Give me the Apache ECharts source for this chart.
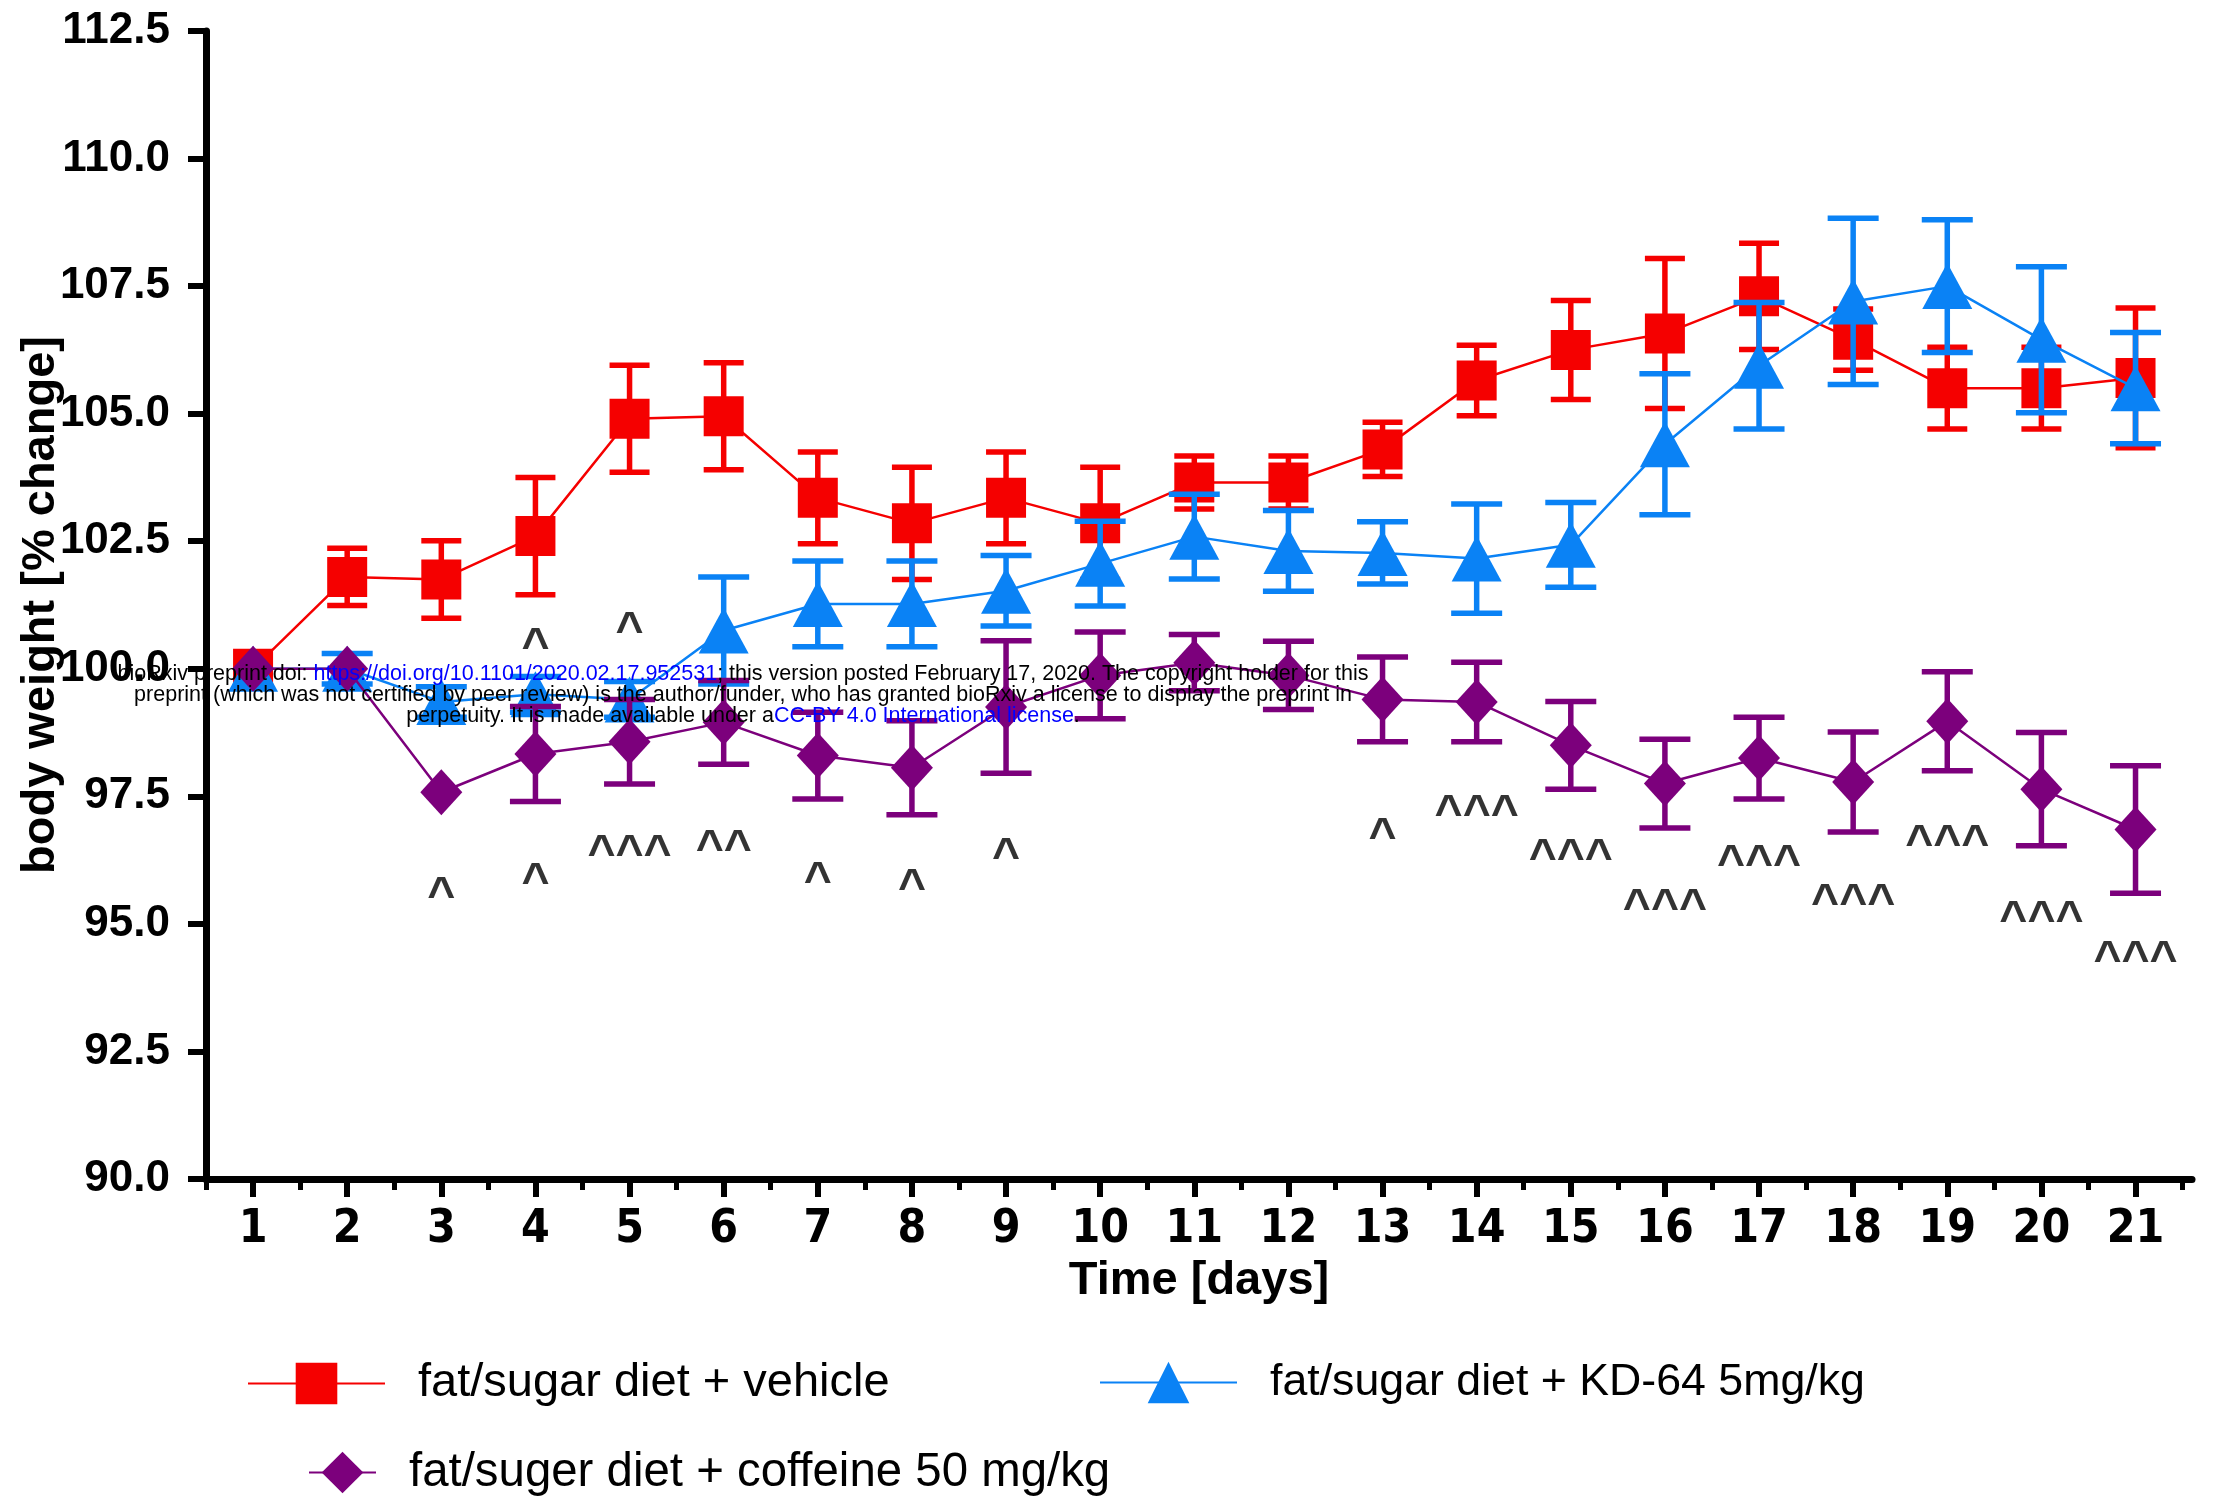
<!DOCTYPE html>
<html>
<head>
<meta charset="utf-8">
<script src="https://cdn.jsdelivr.net/npm/echarts@6/dist/echarts.min.js"></script>
<style>
  html, body { margin: 0; padding: 0; background: #ffffff; }
  #chart { width: 2215px; height: 1502px; }
</style>
</head>
<body>
<div id="chart"></div>
<script>
// Body weight (% of day-1 weight), mean and SEM per day
const days = [1, 2, 3, 4, 5, 6, 7, 8, 9, 10, 11, 12, 13, 14, 15, 16, 17, 18, 19, 20, 21];

const vehicleMean = [100.0, 101.8, 101.75, 102.6, 104.9, 104.95, 103.35, 102.85, 103.35, 102.85, 103.65,
                     103.65, 104.3, 105.65, 106.25, 106.57, 107.3, 106.45, 105.5, 105.5, 105.7];
const vehicleSem  = [0, 0.56, 0.76, 1.15, 1.05, 1.05, 0.9, 1.1, 0.9, 1.1, 0.52,
                     0.52, 0.53, 0.69, 0.97, 1.47, 1.04, 0.6, 0.8, 0.8, 1.37];

const kdMean = [100.0, 100.0, 99.35, 99.5, 99.4, 100.75, 101.27, 101.27, 101.53, 102.06, 102.59,
                102.31, 102.27, 102.16, 102.43, 104.4, 105.94, 107.2, 107.5, 106.45, 105.5];
const kdSem  = [0, 0.3, 0.3, 0.35, 0.35, 1.05, 0.84, 0.84, 0.69, 0.83, 0.83,
                0.79, 0.61, 1.07, 0.83, 1.38, 1.24, 1.63, 1.3, 1.43, 1.09];

const coffMean = [100.0, 100.0, 97.58, 98.33, 98.57, 98.95, 98.3, 98.06, 99.25, 99.87, 100.12,
                  99.87, 99.4, 99.35, 98.5, 97.75, 98.25, 97.78, 98.97, 97.64, 96.85];
const coffSem  = [0, 0, 0, 0.93, 0.83, 0.82, 0.85, 0.92, 1.3, 0.85, 0.55,
                  0.67, 0.83, 0.78, 0.86, 0.87, 0.8, 0.98, 0.97, 1.11, 1.25];

const seriesNames = [
  'fat/sugar diet + vehicle',
  'fat/sugar diet + KD-64 5mg/kg',
  'fat/suger diet + coffeine 50 mg/kg'
];

// Significance marks (^ p<0.05, ^^ p<0.01, ^^^ p<0.001) and the level they sit at
const annotDays   = [4, 5, 3, 4, 5, 6, 7, 8, 9, 13, 14, 15, 16, 17, 18, 19, 20, 21];
const annotMarks  = ['^', '^', '^', '^', '^^^', '^^', '^', '^', '^', '^', '^^^', '^^^', '^^^', '^^^', '^^^', '^^^', '^^^', '^^^'];
const annotLevels = [100.6, 100.93, 95.73, 96.0, 96.56, 96.64, 96.03, 95.89, 96.5, 96.89, 97.33,
                     96.47, 95.5, 96.36, 95.59, 96.75, 95.26, 94.48];

const yMin = 90, yMax = 112.5, yStep = 2.5;
const xMin = 0.5, xMax = 21.6;

const COLORS = ['#f50000', '#0a82f5', '#7c007c'];
const FONT = "'Liberation Sans', Arial, Helvetica, sans-serif";
const NARROW = "'Liberation Sans Narrow', 'Arial Narrow', 'DejaVu Sans Condensed', sans-serif";

const halfTicks = days.map(d => d - 0.5).concat([days[days.length - 1] + 0.5]);

function errorBarSeries(name, means, sems, color, capWidth, z) {
  const data = [];
  days.forEach((d, i) => {
    if (sems[i] > 0) data.push([d, means[i] - sems[i], means[i] + sems[i]]);
  });
  return {
    name: name,
    type: 'custom',
    xAxisIndex: 0,
    yAxisIndex: 0,
    z: z,
    silent: true,
    encode: { x: 0, y: [1, 2] },
    data: data,
    renderItem: function (params, api) {
      const x = api.value(0);
      const top = api.coord([x, api.value(2)]);
      const bot = api.coord([x, api.value(1)]);
      const hw = capWidth / 2;
      const style = { stroke: color, lineWidth: 5.5, lineCap: 'butt' };
      return {
        type: 'group',
        children: [
          { type: 'line', shape: { x1: top[0], y1: top[1], x2: bot[0], y2: bot[1] }, style: style },
          { type: 'line', shape: { x1: top[0] - hw, y1: top[1], x2: top[0] + hw, y2: top[1] }, style: style },
          { type: 'line', shape: { x1: bot[0] - hw, y1: bot[1], x2: bot[0] + hw, y2: bot[1] }, style: style }
        ]
      };
    }
  };
}

function lineSeries(name, means, color, symbol, size, z) {
  return {
    name: name,
    type: 'line',
    xAxisIndex: 0,
    yAxisIndex: 0,
    z: z,
    data: days.map((d, i) => [d, means[i]]),
    symbol: symbol,
    symbolSize: size,
    showAllSymbol: true,
    lineStyle: { color: color, width: 2.5 },
    itemStyle: { color: color, borderWidth: 0 },
    emphasis: { disabled: true },
    animation: false
  };
}

const chart = echarts.init(document.getElementById('chart'), null, { renderer: 'canvas' });

function legendText(size) {
  return { fontFamily: FONT, fontSize: size, color: '#000', padding: [0, 0, 0, 28] };
}

const headerRich = {
  k: { fill: '#000', fontFamily: FONT, fontSize: 21.5 },
  b: { fill: '#0000ff', fontFamily: FONT, fontSize: 21.5 }
};

const option = {
  backgroundColor: '#ffffff',
  animation: false,
  grid: { left: 206, right: 23, top: 31, bottom: 323, containLabel: false, outerBoundsMode: 'none' },
  xAxis: [
    {
      type: 'value', min: xMin, max: xMax, position: 'bottom',
      axisLine: { show: true, onZero: false, lineStyle: { color: '#000', width: 7 } },
      axisTick: { show: true, customValues: halfTicks, length: 11, lineStyle: { color: '#000', width: 5 } },
      axisLabel: { show: false },
      splitLine: { show: false }
    },
    {
      type: 'value', min: xMin, max: xMax, position: 'bottom', offset: 0,
      name: 'Time [days]', nameLocation: 'middle', nameGap: 79, nameMoveOverlap: false,
      nameTextStyle: { fontFamily: FONT, fontWeight: 'bold', fontSize: 47, color: '#000' },
      axisLine: { show: false, onZero: false },
      axisTick: { show: true, customValues: days, length: 18, lineStyle: { color: '#000', width: 6 } },
      axisLabel: {
        show: true, customValues: days, margin: 28,
        fontFamily: NARROW, fontWeight: 'bold', fontSize: 46, color: '#000',
        formatter: v => String(v)
      },
      splitLine: { show: false }
    }
  ],
  yAxis: {
    type: 'value', min: yMin, max: yMax, interval: yStep,
    name: 'body weight [% change]', nameLocation: 'middle', nameGap: 141, nameRotate: 90,
    nameMoveOverlap: false,
    nameTextStyle: { fontFamily: FONT, fontWeight: 'bold', fontSize: 47, color: '#000' },
    axisLine: { show: true, onZero: false, lineStyle: { color: '#000', width: 7 } },
    axisTick: { show: true, length: 18, lineStyle: { color: '#000', width: 6 } },
    axisLabel: {
      margin: 36, fontFamily: FONT, fontWeight: 'bold', fontSize: 44, color: '#000',
      showMinLabel: true, showMaxLabel: true,
      formatter: v => v.toFixed(1)
    },
    splitLine: { show: false }
  },
  legend: [
    { data: [seriesNames[0]], left: 247, top: 1360, padding: 0, itemWidth: 137, itemHeight: 52,
      textStyle: legendText(47), selectedMode: false },
    { data: [seriesNames[1]], left: 1099, top: 1360, padding: 0, itemWidth: 137, itemHeight: 52,
      textStyle: legendText(44.7), selectedMode: false },
    { data: [seriesNames[2]], left: 308, top: 1449, padding: 0, itemWidth: 67, itemHeight: 52,
      textStyle: legendText(47.4), selectedMode: false }
  ],
  series: [
    errorBarSeries('vehicle SEM', vehicleMean, vehicleSem, COLORS[0], 40, 2),
    lineSeries(seriesNames[0], vehicleMean, COLORS[0], 'rect', [40, 40], 3),
    errorBarSeries('KD-64 SEM', kdMean, kdSem, COLORS[1], 51, 4),
    lineSeries(seriesNames[1], kdMean, COLORS[1], 'triangle', [50, 46], 5),
    errorBarSeries('coffeine SEM', coffMean, coffSem, COLORS[2], 51, 6),
    lineSeries(seriesNames[2], coffMean, COLORS[2], 'diamond', [42, 46], 7),
    {
      name: 'significance',
      type: 'scatter',
      xAxisIndex: 0, yAxisIndex: 0, z: 8,
      symbol: 'circle', symbolSize: 0, silent: true,
      data: annotDays.map((d, i) => [d, annotLevels[i]]),
      label: {
        show: true, position: 'inside', offset: [0, 10],
        fontFamily: FONT, fontWeight: 'bold', fontSize: 48, color: '#000',
        formatter: p => annotMarks[p.dataIndex]
      }
    }
  ],
  graphic: [
    {
      type: 'text', x: 743, y: 674, z: 100, silent: true,
      style: {
        text: '{k|bioRxiv preprint doi: }{b|https://doi.org/10.1101/2020.02.17.952531}{k|; this version posted February 17, 2020. The copyright holder for this}',
        align: 'center', verticalAlign: 'middle', rich: headerRich
      }
    },
    {
      type: 'text', x: 743, y: 695, z: 100, silent: true,
      style: {
        text: 'preprint (which was not certified by peer review) is the author/funder, who has granted bioRxiv a license to display the preprint in',
        align: 'center', verticalAlign: 'middle',
        fill: '#000', fontFamily: FONT, fontSize: 21.5
      }
    },
    {
      type: 'text', x: 743, y: 716, z: 100, silent: true,
      style: {
        text: '{k|perpetuity. It is made available under a}{b|CC-BY 4.0 International license}{k|.}',
        align: 'center', verticalAlign: 'middle', rich: headerRich
      }
    }
  ]
};

chart.setOption(option);
</script>
</body>
</html>
